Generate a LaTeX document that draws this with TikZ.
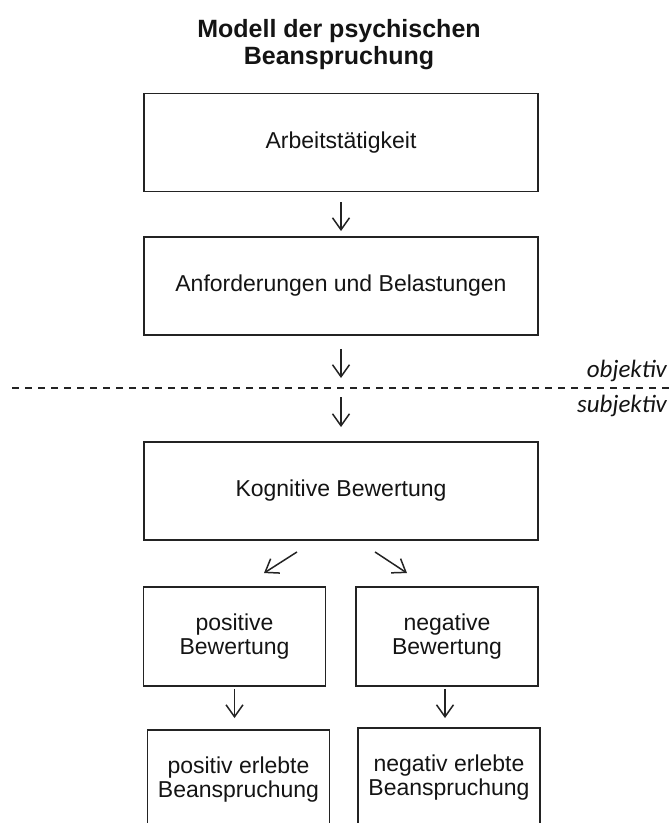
\documentclass[tikz,border=0pt]{standalone}
\usepackage{fontspec}
\usepackage{tikz}
\usepackage{xcolor}
\usetikzlibrary{positioning, arrows.meta}
\setmainfont{Liberation Sans}
\newfontfamily\ebenefont{Carlito}
\definecolor{bslinie}{RGB}{35, 35, 35}
\definecolor{bstext}{RGB}{20, 20, 20}
\tikzset{
    bsbox/.style={rectangle, draw=bslinie, line width=1.9pt, inner sep=0pt, align=center,
        text=bstext, font=\fontsize{23}{24}\selectfont},
    breitbox/.style={bsbox, minimum width=394pt, minimum height=98pt},
    halbbox/.style={bsbox, minimum width=182pt, minimum height=99pt},
    pfeil/.style={draw=bslinie, line width=1.5pt, -{Straight Barb[length=12pt, width=17pt]}},
    trennlinie/.style={draw=bslinie, line width=1.5pt, dash pattern=on 7pt off 6pt},
    ebene/.style={inner sep=0pt, text=bstext, font=\fontsize{25}{25}\ebenefont\itshape}
}

\begin{document}
\begin{tikzpicture}[x=1pt, y=-1pt]
    \useasboundingbox (0,0) rectangle (670,823);
    \node[align=center, inner sep=0pt, text=bstext, font=\fontsize{25}{27}\selectfont\bfseries]
        (titel) at (339,44.5) {Modell der psychischen\\Beanspruchung};
    \node[breitbox] (arbeit) at (341,142.5) {Arbeitstätigkeit};
    \node[breitbox] (anford) at (341,286) {Anforderungen und Belastungen};
    \node[breitbox] (bewert) at (341,491) {Kognitive Bewertung};
    \node[halbbox] (posbew) at (234.5,636.5) {positive\\Bewertung};
    \node[halbbox] (negbew) at (447,636.5) {negative\\Bewertung};
    \node[halbbox] (poserl) at (238.5,779.5) {positiv erlebte\\Beanspruchung};
    \node[halbbox] (negerl) at (449,777.5) {negativ erlebte\\Beanspruchung};
    % objektiv / subjektiv
    \coordinate (grenzeO) at (341,378);
    \coordinate (grenzeU) at (341,397);
    \draw[trennlinie] (12,388) -- (670,388);
    \node[ebene, anchor=base east] (objektiv) at (667,377) {objektiv};
    \node[ebene, anchor=base east] (subjektiv) at (667,412) {subjektiv};
    % Pfeile
    \draw[pfeil, shorten <=10pt, shorten >=5pt] (arbeit) -- (anford);
    \draw[pfeil, shorten <=13pt] (anford) -- (grenzeO);
    \draw[pfeil, shorten >=14pt] (grenzeU) -- (bewert);
    \draw[pfeil] ([xshift=-44pt, yshift=-11pt]bewert.south) -- ([xshift=29.5pt, yshift=13pt]posbew.north);
    \draw[pfeil] ([xshift=34pt, yshift=-11pt]bewert.south) -- ([xshift=-40pt, yshift=13pt]negbew.north);
    \draw[pfeil, shorten <=2pt, shorten >=11pt] (posbew.south) -- (posbew.south |- poserl.north);
    \draw[pfeil, shorten <=2pt, shorten >=9pt] ([xshift=-2pt]negbew.south) -- ([xshift=-2pt]negbew.south |- negerl.north);
\end{tikzpicture}
\end{document}
